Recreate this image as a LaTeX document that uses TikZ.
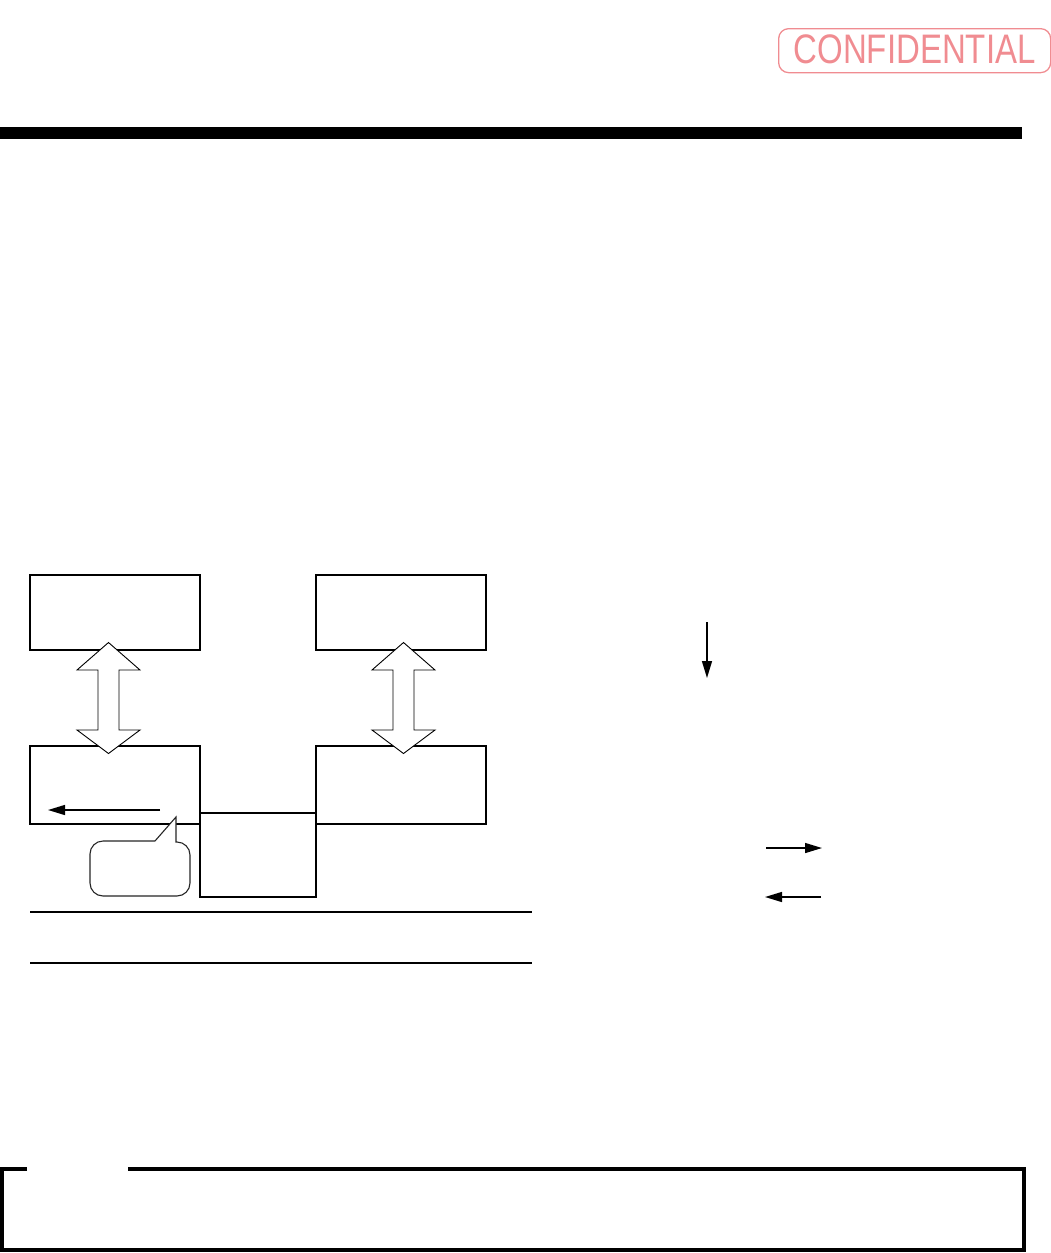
\documentclass[tikz,border=0pt]{standalone}
\usepackage{fontspec}
\setmainfont{Liberation Sans}
\usetikzlibrary{arrows.meta}
\definecolor{stamp}{RGB}{240,140,145}
\tikzset{
  blk/.style={draw=black, line width=2pt, fill=white, inner sep=0pt, outer sep=0pt, anchor=north west},
  dblarrow/.style={draw=black, line width=0.9pt, fill=white, line join=miter},
  thinarrow/.style={draw=black, line width=1.4pt, -{Triangle[length=17pt,width=10pt]}},
  rule/.style={line width=2pt},
  bubble/.style={draw=black!85, line width=1.1pt, fill=white}
}
\begin{document}
\begin{tikzpicture}[x=1pt,y=-1pt]
\useasboundingbox (0,0) rectangle (1051,1253);
% stamp
\node[draw=stamp, line width=1.3pt, rounded corners=10pt, minimum width=272pt, minimum height=44pt, inner sep=0pt, anchor=north west] (conf) at (778,28) {};
\node[text=stamp, inner sep=0pt, font=\fontsize{33}{38}\selectfont] (conftext) at ([yshift=1pt]conf.center) {\scalebox{1}[1.25]{CONFIDENTIAL}};
% top bar
\fill (0,127) rectangle (1022,139);
% boxes
\node[blk, minimum width=170pt, minimum height=75pt] (tl) at (30,575) {};
\node[blk, minimum width=170pt, minimum height=75pt] (tr) at (316,575) {};
\node[blk, minimum width=170pt, minimum height=78pt] (bl) at (30,746) {};
\node[blk, minimum width=170pt, minimum height=78pt] (br) at (316,746) {};
\node[blk, minimum width=116pt, minimum height=84pt] (mid) at (200,813) {};
% double arrows
\coordinate (da1) at (108.5,642.5);
\coordinate (da2) at (403.5,642.5);
\foreach \c in {da1,da2}{
  \draw[dblarrow] (\c) -- ++(31.5,27.5) -- ++(-21,0) -- ++(0,60) -- ++(21,0)
    -- ++(-31.5,23.5) -- ++(-31.5,-23.5) -- ++(21,0) -- ++(0,-60) -- ++(-21,0) -- cycle;
}
% small arrow inside bottom-left box
\coordinate (sa1) at (160,810);
\coordinate (sa2) at (48,810);
\draw[thinarrow] (sa1) -- (sa2);
% speech bubble
\coordinate (tip) at (176,817);
\draw[bubble] (155,841) -- (tip) -- (176,842) [rounded corners=13pt] -- (190,842) -- (190,896) -- (90,896) -- (90,841) -- (155,841);
% rules
\coordinate (r1a) at (30,912); \coordinate (r1b) at (532,912);
\coordinate (r2a) at (30,963); \coordinate (r2b) at (532,963);
\draw[rule] (r1a) -- (r1b);
\draw[rule] (r2a) -- (r2b);
% right side arrows
\coordinate (d1) at (707,622); \coordinate (d2) at (707,678);
\draw[thinarrow] (d1) -- (d2);
\coordinate (ra1) at (766,848); \coordinate (ra2) at (822,848);
\draw[thinarrow] (ra1) -- (ra2);
\coordinate (la1) at (821,897); \coordinate (la2) at (765,897);
\draw[thinarrow] (la1) -- (la2);
% bottom frame
\draw[line width=4pt] (27,1169) -- (2,1169) -- (2,1250) -- (1024,1250) -- (1024,1169) -- (128,1169);
\end{tikzpicture}
\end{document}
